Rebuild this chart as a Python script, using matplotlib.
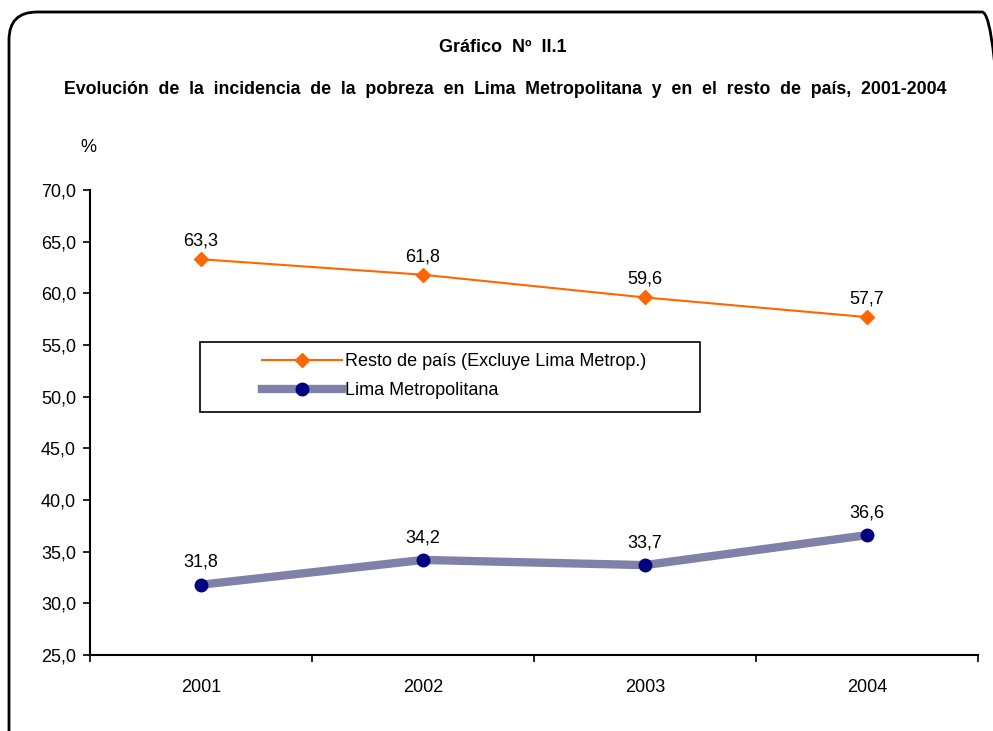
import matplotlib
matplotlib.use("Agg")
import matplotlib.pyplot as plt
from matplotlib.patches import FancyBboxPatch, Rectangle
from matplotlib.ticker import FixedLocator

plt.rcParams['font.family'] = ['Liberation Sans', 'DejaVu Sans']

years = ["2001", "2002", "2003", "2004"]
resto = [63.3, 61.8, 59.6, 57.7]
lima = [31.8, 34.2, 33.7, 36.6]
resto_labels = ["63,3", "61,8", "59,6", "57,7"]
lima_labels = ["31,8", "34,2", "33,7", "36,6"]
yticks = [25, 30, 35, 40, 45, 50, 55, 60, 65, 70]

W, H = 993, 731
fig = plt.figure(figsize=(W/100, H/100), dpi=100)

# rounded frame (inch coordinates)
frame = FancyBboxPatch((0.09, -0.6), 10.1 - 0.09, (H - 12)/100 + 0.6,
                       boxstyle="round,pad=0,rounding_size=0.28",
                       transform=fig.dpi_scale_trans, fill=False, edgecolor='black',
                       linewidth=2)
fig.patches.append(frame)

L, R, T, B = 90, 978, 190, 655
ax = fig.add_axes([L/W, 1-B/H, (R-L)/W, (B-T)/H])
x = list(range(len(years)))

ax.plot(x, resto, color='#ff6600', linewidth=1.5, marker='D', markersize=7.5,
        markerfacecolor='#ff6600', markeredgecolor='#ff6600',
        label='Resto de país (Excluye Lima Metrop.)', zorder=3)
ax.plot(x, lima, color='#8080a8', linewidth=6, marker='o', markersize=9,
        markerfacecolor='#000080', markeredgecolor='#000080',
        label='Lima Metropolitana', zorder=3)

for xi, v, t in zip(x, resto, resto_labels):
    ax.annotate(t, (xi, v), xytext=(0, 7), textcoords='offset points',
                ha='center', va='bottom', fontsize=13)
for xi, v, t in zip(x, lima, lima_labels):
    ax.annotate(t, (xi, v), xytext=(0, 10), textcoords='offset points',
                ha='center', va='bottom', fontsize=13)

ax.set_xlim(-0.5, 3.5)
ax.set_ylim(25, 70)
ax.set_yticks(yticks)
ax.set_yticklabels([f"{t:.1f}".replace('.', ',') for t in yticks], fontsize=13)
ax.xaxis.set_major_locator(FixedLocator([-0.5, 0.5, 1.5, 2.5, 3.5]))
ax.xaxis.set_major_formatter(plt.NullFormatter())
ax.xaxis.set_minor_locator(FixedLocator(x))
ax.set_xticklabels(years, minor=True, fontsize=13)
ax.tick_params(axis='x', which='minor', length=0, pad=17)
ax.tick_params(axis='x', which='major', direction='out', length=5, width=1.2)
ax.tick_params(axis='y', direction='out', length=5, width=1.2, pad=5)
for s in ['top', 'right']:
    ax.spines[s].set_visible(False)
for s in ['left', 'bottom']:
    ax.spines[s].set_linewidth(1.5)

# legend box and legend
def ax_xy(px, py):
    return (px - L) / (R - L), (B - py) / (B - T)

bx0, by0 = ax_xy(200, 412)
bx1, by1 = ax_xy(700, 342)
ax.add_patch(Rectangle((bx0, by0), bx1 - bx0, by1 - by0, transform=ax.transAxes,
                       fill=True, facecolor='white', edgecolor='black', linewidth=1.2,
                       zorder=4))
lx, ly = ax_xy(262, 376)
leg = ax.legend(loc='center left', bbox_to_anchor=(lx, ly),
                frameon=False, fontsize=13, handlelength=4.45,
                borderpad=0, labelspacing=0.65, handletextpad=0.15,
                borderaxespad=0)
leg.set_zorder(5)

fig.text(503/W, 1-47/H, "Gráfico  Nº  II.1", ha='center', va='center',
         fontsize=13, fontweight='bold')
fig.text(505/W, 1-90/H,
         "Evolución  de  la  incidencia  de  la  pobreza  en  Lima  Metropolitana  y  en  el  resto  de  país,  2001-2004",
         ha='center', va='center', fontsize=12.8, fontweight='bold')
fig.text(88/W, 1-148/H, "%", ha='center', va='center', fontsize=13)

fig.savefig("out.png", dpi=100)
